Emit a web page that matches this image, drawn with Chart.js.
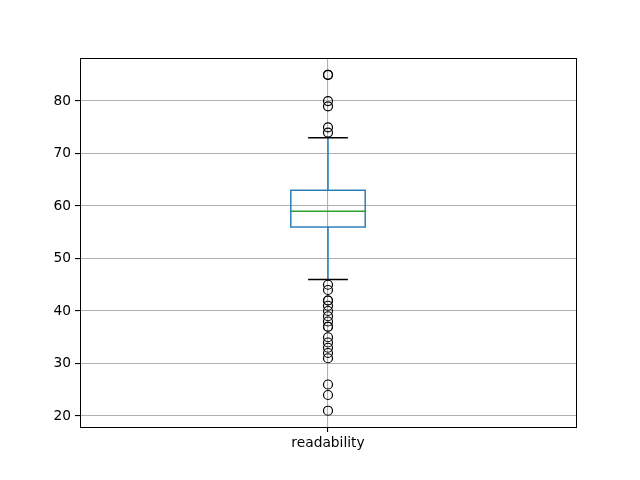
<!DOCTYPE html>
<html>
<head>
<meta charset="utf-8">
<script src="https://cdn.jsdelivr.net/npm/chart.js@4"></script>
<style>
html, body { margin: 0; padding: 0; background: #fff; }
#wrap { width: 640px; height: 480px; }
</style>
</head>
<body>
<div id="wrap"><canvas id="c" width="640" height="480"></canvas></div>
<script>
var categories = ['readability'];
// box summary: lower whisker, q1, median, q3, upper whisker
var whiskerLow = [46];
var q1 = [56];
var median = [59];
var q3 = [63];
var whiskerHigh = [73];
var outliers = [
    [85, 85, 80, 79, 75, 74, 45, 44, 42, 42, 41, 40, 39, 38, 37, 37, 35, 34, 33, 32, 31, 26, 24, 21]
];
var yTicks = [20, 30, 40, 50, 60, 70, 80];

var boxWidth = 0.15;
var capWidth = 0.08;

var boxPlugin = {
    id: 'boxes',
    beforeDatasetsDraw: function(chart) {
        var ctx = chart.ctx, x = chart.scales.x, y = chart.scales.y;
        ctx.save();
        for (var i = 0; i < categories.length; i++) {
            var pos = i + 1;
            var xl = x.getPixelForValue(pos - boxWidth / 2);
            var xr = x.getPixelForValue(pos + boxWidth / 2);
            var xc = x.getPixelForValue(pos);
            var cl = x.getPixelForValue(pos - capWidth / 2);
            var cr = x.getPixelForValue(pos + capWidth / 2);
            var yq1 = y.getPixelForValue(q1[i]), yq3 = y.getPixelForValue(q3[i]);
            var ylo = y.getPixelForValue(whiskerLow[i]), yhi = y.getPixelForValue(whiskerHigh[i]);
            var ymed = y.getPixelForValue(median[i]);
            ctx.lineWidth = 1.4;
            // whiskers
            ctx.strokeStyle = '#1f77b4';
            ctx.beginPath();
            ctx.moveTo(xc, yq3); ctx.lineTo(xc, yhi);
            ctx.moveTo(xc, yq1); ctx.lineTo(xc, ylo);
            ctx.stroke();
            // box
            ctx.strokeRect(xl, yq3, xr - xl, yq1 - yq3);
            // caps
            ctx.strokeStyle = '#000';
            ctx.beginPath();
            ctx.moveTo(cl, yhi); ctx.lineTo(cr, yhi);
            ctx.moveTo(cl, ylo); ctx.lineTo(cr, ylo);
            ctx.stroke();
            // median
            ctx.strokeStyle = '#2ca02c';
            ctx.beginPath();
            ctx.moveTo(xl, ymed); ctx.lineTo(xr, ymed);
            ctx.stroke();
        }
        ctx.restore();
    },
    afterDraw: function(chart) {
        var a = chart.chartArea, ctx = chart.ctx;
        ctx.save();
        ctx.strokeStyle = '#000';
        ctx.lineWidth = 1;
        ctx.strokeRect(Math.round(a.left) + 0.5, Math.round(a.top) + 0.5,
            Math.round(a.right - a.left), Math.round(a.bottom - a.top));
        ctx.restore();
    }
};

var points = [];
outliers.forEach(function(arr, i) {
    arr.forEach(function(v) { points.push({ x: i + 1, y: v }); });
});

new Chart(document.getElementById('c').getContext('2d'), {
    type: 'scatter',
    data: {
        datasets: [{
            data: points,
            pointStyle: 'circle',
            pointRadius: 4.5,
            pointBorderColor: '#000',
            pointBackgroundColor: 'rgba(0,0,0,0)',
            pointBorderWidth: 1.2
        }]
    },
    options: {
        responsive: false,
        animation: false,
        layout: { padding: { top: 58, right: 64, left: 0, bottom: 0 } },
        plugins: { legend: { display: false }, tooltip: { enabled: false } },
        scales: {
            x: {
                type: 'linear',
                min: 0.5,
                max: 1.5,
                afterBuildTicks: function(s) { s.ticks = categories.map(function(c, i) { return { value: i + 1 }; }); },
                afterFit: function(s) { s.height = 53; },
                grid: { color: '#b0b0b0', lineWidth: 1.1, tickLength: 5, tickColor: '#000' },
                border: { color: '#000' },
                ticks: {
                    color: '#000',
                    font: { family: 'DejaVu Sans', size: 13.8 },
                    padding: 3,
                    maxRotation: 0,
                    callback: function(v) { return categories[Math.round(v) - 1] || ''; }
                }
            },
            y: {
                min: 17.9,
                max: 88.2,
                afterBuildTicks: function(s) { s.ticks = yTicks.map(function(v) { return { value: v }; }); },
                afterFit: function(s) { s.width = 80; },
                grid: { color: '#b0b0b0', lineWidth: 1.1, tickLength: 5, tickColor: '#000' },
                border: { color: '#000' },
                ticks: {
                    color: '#000',
                    font: { family: 'DejaVu Sans', size: 13.8 },
                    padding: 4
                }
            }
        }
    },
    plugins: [boxPlugin]
});
</script>
</body>
</html>
